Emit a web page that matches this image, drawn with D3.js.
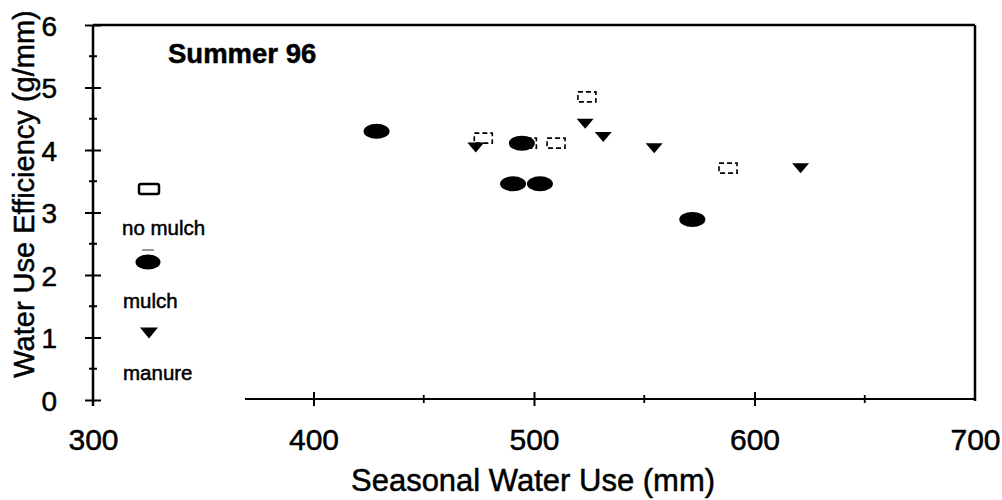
<!DOCTYPE html>
<html>
<head>
<meta charset="utf-8">
<script src="https://cdn.jsdelivr.net/npm/d3@7"></script>
<style>
  html, body { margin: 0; padding: 0; background: #fff; }
  svg { display: block; }
  text { font-family: "Liberation Sans", Arial, sans-serif; fill: #000; stroke: #000; stroke-width: 0.5px; }
</style>
</head>
<body>
<svg id="chart" width="1002" height="500"></svg>
<script>
// ---- data ----
const xTicks = [300, 400, 500, 600, 700];
const xMinorTicks = [450, 550, 650];
const yTicks = [0, 1, 2, 3, 4, 5, 6];
const yMinorTicks = [0.5, 1.5, 2.5, 3.5, 4.5, 5.5];

const noMulchX = [477, 497, 510, 524, 588];
const noMulchY = [4.19, 4.11, 4.11, 4.85, 3.71];

const mulchX = [428.6, 494.5, 490.5, 502.7, 571.8];
const mulchY = [4.30, 4.11, 3.46, 3.46, 2.89];

const manureX = [473.6, 523.2, 531.4, 554.5, 620.9];
const manureY = [4.04, 4.42, 4.21, 4.03, 3.71];

const seriesNames = ["no mulch", "mulch", "manure"];
const panelTitle = "Summer 96";
const xTitle = "Seasonal Water Use (mm)";
const yTitle = "Water Use Efficiency (g/mm)";

// ---- drawing ----
const svg = d3.select("#chart");
const x = d3.scaleLinear().domain([300, 700]).range([93, 975]);
const y = d3.scaleLinear().domain([0, 6]).range([400, 25]);

const AX = 2.5;
const FONT = "Liberation Sans, Arial, sans-serif";

// frame: top and right
svg.append("line").attr("x1", x(300)).attr("x2", x(700)).attr("y1", y(6)).attr("y2", y(6))
  .attr("stroke", "#000").attr("stroke-width", AX);
svg.append("line").attr("x1", x(700)).attr("x2", x(700)).attr("y1", y(6)).attr("y2", y(0) + 1)
  .attr("stroke", "#000").attr("stroke-width", AX);

// y axis
const yAxis = d3.axisLeft(y).tickValues(yTicks).tickFormat(d3.format("d")).tickSize(8).tickPadding(28);
const gy = svg.append("g").attr("transform", `translate(${x(300)},0)`).call(yAxis);
gy.select(".domain").remove();
gy.selectAll(".tick line").attr("x1", 8).attr("x2", -8).attr("stroke-width", 2);
gy.selectAll(".tick text").style("font-size", "28px").style("font-family", FONT)
  .attr("dy", "0.36em");
svg.append("line").attr("x1", x(300)).attr("x2", x(300)).attr("y1", y(6)).attr("y2", y(0) + 6)
  .attr("stroke", "#000").attr("stroke-width", AX);
svg.append("g").selectAll("line").data(yMinorTicks).join("line")
  .attr("x1", x(300) - 4).attr("x2", x(300) + 4)
  .attr("y1", d => y(d)).attr("y2", d => y(d))
  .attr("stroke", "#000").attr("stroke-width", 2);

// x axis (line broken where legend sits)
svg.append("line").attr("x1", 245).attr("x2", x(700)).attr("y1", y(0) - 1).attr("y2", y(0) - 1)
  .attr("stroke", "#000").attr("stroke-width", 2);
const xAxis = d3.axisBottom(x).tickValues(xTicks).tickFormat(d3.format("d")).tickSize(7).tickPadding(23);
const gx = svg.append("g").attr("transform", `translate(0,${y(0) - 1})`).call(xAxis);
gx.select(".domain").remove();
gx.selectAll(".tick line").attr("y1", -7).attr("y2", 7).attr("stroke-width", 2)
  .filter(d => d === 300 || d === 700).remove();
gx.selectAll(".tick text").style("font-size", "30px").style("font-family", FONT);
svg.append("g").selectAll("line").data(xMinorTicks).join("line")
  .attr("x1", d => x(d)).attr("x2", d => x(d))
  .attr("y1", y(0) - 5).attr("y2", y(0) + 3)
  .attr("stroke", "#000").attr("stroke-width", 1.8);

// axis titles
svg.append("text").attr("x", 533).attr("y", 491).attr("text-anchor", "middle")
  .style("font-size", "31px").text(xTitle);
svg.append("text").attr("transform", "translate(34,194) rotate(-90)").attr("text-anchor", "middle")
  .style("font-size", "29px").text(yTitle);

// panel title
svg.append("text").attr("x", 168).attr("y", 63).style("font-size", "27.5px").style("font-weight", "bold")
  .text(panelTitle);

// marker shapes
const tri = (cx, cy, w, h) => `M${cx - w / 2},${cy - h / 2}L${cx + w / 2},${cy - h / 2}L${cx},${cy + h / 2}Z`;

// no mulch squares (faint, broken outlines)
svg.append("g").selectAll("rect").data(d3.zip(noMulchX, noMulchY)).join("rect")
  .attr("x", d => x(d[0]) - 9).attr("y", d => y(d[1]) - 5)
  .attr("width", 18).attr("height", 10)
  .attr("fill", "#fff").attr("stroke", "#000").attr("stroke-width", 1.6)
  .attr("stroke-dasharray", "5,3");

// mulch ellipses
svg.append("g").selectAll("ellipse").data(d3.zip(mulchX, mulchY)).join("ellipse")
  .attr("cx", d => x(d[0])).attr("cy", d => y(d[1]))
  .attr("rx", 13).attr("ry", 7.5).attr("fill", "#000");

// manure triangles
svg.append("g").selectAll("path").data(d3.zip(manureX, manureY)).join("path")
  .attr("d", d => tri(x(d[0]), y(d[1]), 17, 10)).attr("fill", "#000");

// legend
const lg = svg.append("g");
lg.append("rect").attr("x", 139).attr("y", 184).attr("width", 20).attr("height", 10).attr("rx", 2)
  .attr("fill", "#fff").attr("stroke", "#000").attr("stroke-width", 2.5);
lg.append("text").attr("x", 122).attr("y", 235).style("font-size", "20.5px").text(seriesNames[0]);
lg.append("line").attr("x1", 142).attr("x2", 154).attr("y1", 250).attr("y2", 250)
  .attr("stroke", "#777").attr("stroke-width", 1.5);
lg.append("ellipse").attr("cx", 148).attr("cy", 262).attr("rx", 12.5).attr("ry", 7.5).attr("fill", "#000");
lg.append("text").attr("x", 123).attr("y", 308).style("font-size", "20.5px").text(seriesNames[1]);
lg.append("path").attr("d", tri(149, 333, 18, 11)).attr("fill", "#000");
lg.append("text").attr("x", 123).attr("y", 380).style("font-size", "20.5px").text(seriesNames[2]);
</script>
</body>
</html>
